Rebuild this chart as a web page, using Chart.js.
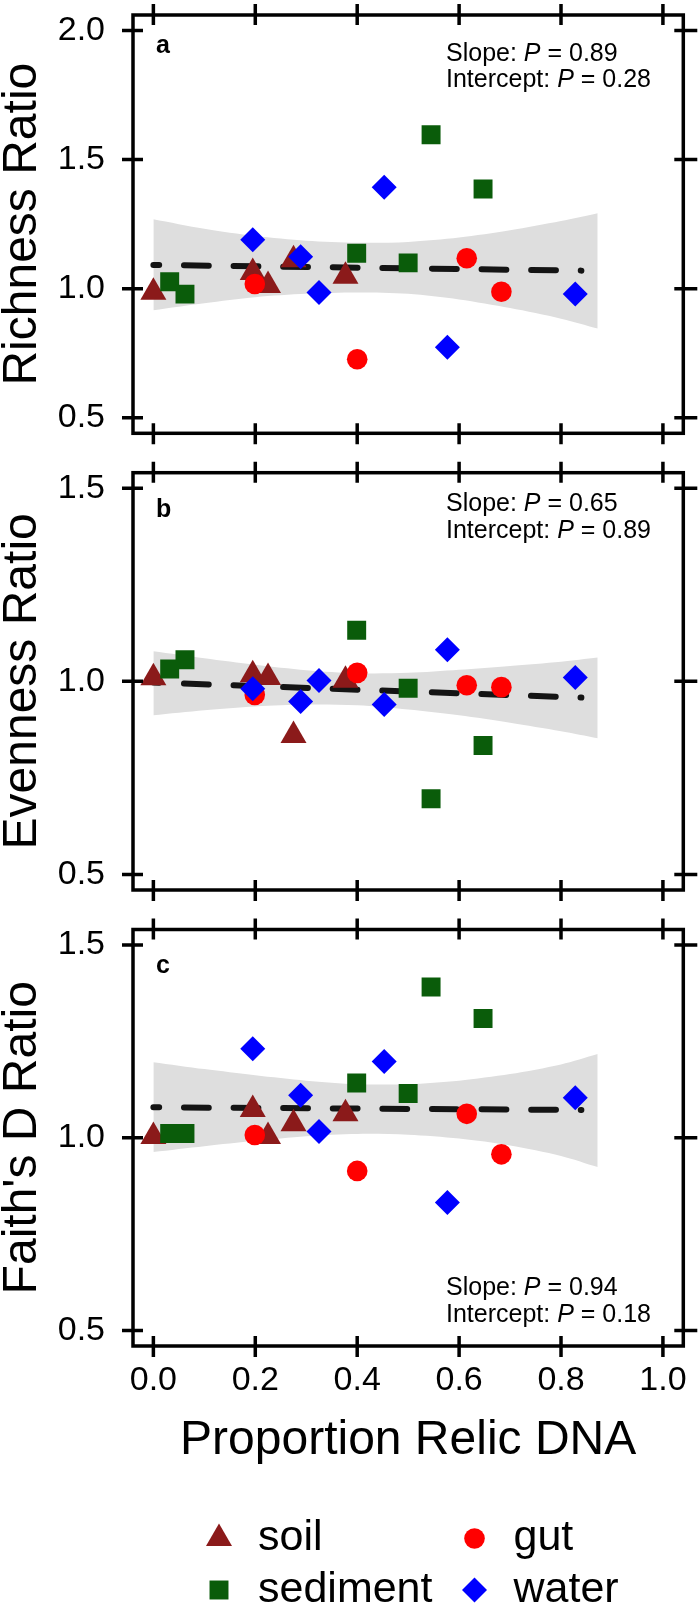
<!DOCTYPE html>
<html>
<head>
<meta charset="utf-8">
<script src="https://cdn.jsdelivr.net/npm/chart.js@4.4.1/dist/chart.umd.min.js"></script>
<style>
  html, body { margin: 0; padding: 0; background: #fff; }
  #wrap { position: relative; width: 700px; height: 1609px; overflow: hidden; }
  canvas { position: absolute; left: 0; }
</style>
</head>
<body>
<div id="wrap">
  <canvas id="chart-a" width="700" height="450" style="top:0px"></canvas>
  <canvas id="chart-b" width="700" height="455" style="top:450px"></canvas>
  <canvas id="chart-c" width="700" height="704" style="top:905px"></canvas>
</div>
<script>
"use strict";
// x positions (proportion relic DNA), shared by the three panels
const xTicks = [0, 0.2, 0.4, 0.6, 0.8, 1.0];
const soilX = [0.000, 0.195, 0.225, 0.275, 0.377];
const sedimentX = [0.032, 0.062, 0.399, 0.500, 0.545, 0.647];
const gutX = [0.199, 0.400, 0.615, 0.683];
const waterX = [0.195, 0.289, 0.325, 0.453, 0.577, 0.828];

// a: richness ratio
const richSoil = [0.986, 1.063, 1.012, 1.112, 1.048];
const richSediment = [1.027, 0.979, 1.137, 1.100, 1.596, 1.386];
const richGut = [1.018, 0.727, 1.118, 0.988];
const richWater = [1.190, 1.124, 0.985, 1.393, 0.773, 0.979];

// b: evenness ratio
const evenSoil = [1.009, 1.017, 1.010, 0.860, 1.003];
const evenSediment = [1.032, 1.056, 1.132, 0.982, 0.696, 0.834];
const evenGut = [0.965, 1.022, 0.990, 0.985];
const evenWater = [0.981, 0.948, 1.002, 0.940, 1.082, 1.010];

// c: faith's D ratio
const faithSoil = [1.003, 1.073, 1.003, 1.036, 1.062];
const faithSediment = [1.011, 1.011, 1.142, 1.115, 1.391, 1.309];
const faithGut = [1.007, 0.914, 1.062, 0.957];
const faithWater = [1.231, 1.110, 1.016, 1.198, 0.832, 1.104];

// fitted lines and confidence bands
const fitX = [0, 0.84];
const richFit = [1.092, 1.070];
const evenFit = [0.997, 0.958];
const faithFit = [1.079, 1.072];
const bandX = [0, 0.1, 0.2, 0.3, 0.4, 0.5, 0.6, 0.7, 0.8, 0.872];
const richUpper = [1.269, 1.232, 1.204, 1.186, 1.178, 1.181, 1.198, 1.226, 1.262, 1.292];
const richLower = [0.917, 0.944, 0.967, 0.980, 0.985, 0.980, 0.958, 0.925, 0.884, 0.846];
const evenUpper = [1.078, 1.060, 1.043, 1.029, 1.021, 1.022, 1.030, 1.040, 1.051, 1.062];
const evenLower = [0.912, 0.925, 0.935, 0.940, 0.938, 0.927, 0.912, 0.893, 0.871, 0.853];
const faithUpper = [1.196, 1.178, 1.162, 1.148, 1.139, 1.139, 1.148, 1.165, 1.190, 1.217];
const faithLower = [0.963, 0.978, 0.992, 1.004, 1.010, 1.008, 0.998, 0.980, 0.953, 0.924];

const yTitles = ["Richness Ratio", "Evenness Ratio", "Faith's D Ratio"];
const panelLetters = ["a", "b", "c"];
const slopeP = ["0.89", "0.65", "0.94"];
const interceptP = ["0.28", "0.89", "0.18"];
const legendLabels = ["soil", "sediment", "gut", "water"];

const FONT = '"Liberation Sans", Arial, Helvetica, sans-serif';
const soilColor = "#8B1A1A";
const sedimentColor = "#0A5C0A";
const gutColor = "#FF0000";
const waterColor = "#0000FF";

Chart.defaults.font.family = FONT;
Chart.defaults.color = "#000";

function pts(xs, ys) {
    return xs.map((x, i) => ({ x: x, y: ys[i] }));
}

function pointSet(label, xs, ys, style, radius, color, order) {
    return {
        label: label,
        data: pts(xs, ys),
        showLine: false,
        order: order,
        pointStyle: style,
        pointRadius: radius,
        pointHoverRadius: radius,
        pointBackgroundColor: color,
        pointBorderColor: color,
        pointBorderWidth: 0,
        pointHoverBorderWidth: 0,
    };
}

function drawStat(ctx, label, value, x, y) {
    const f = "25px " + FONT;
    ctx.font = f;
    ctx.fillText(label, x, y);
    let cx = x + ctx.measureText(label).width;
    ctx.font = "italic " + f;
    ctx.fillText("P", cx, y);
    cx += ctx.measureText("P").width;
    ctx.font = f;
    ctx.fillText(" = " + value, cx, y);
}

// box, ticks crossing the box on all four sides, panel letter and p values
const framePlugin = {
    id: "frame",
    afterDraw(chart, args, opts) {
        const ctx = chart.ctx;
        const { left, right, top, bottom } = chart.chartArea;
        const xs = chart.scales.x;
        const ys = chart.scales.y;
        ctx.save();
        ctx.strokeStyle = "#000";
        ctx.lineWidth = 3.5;
        ctx.strokeRect(left, top, right - left, bottom - top);
        ctx.beginPath();
        xTicks.forEach(v => {
            const px = xs.getPixelForValue(v);
            ctx.moveTo(px, top - 11);
            ctx.lineTo(px, top + 10);
            ctx.moveTo(px, bottom - 10);
            ctx.lineTo(px, bottom + 11);
        });
        opts.yTicks.forEach(v => {
            const py = ys.getPixelForValue(v);
            ctx.moveTo(left - 11, py);
            ctx.lineTo(left + 10, py);
            ctx.moveTo(right - 9, py);
            ctx.lineTo(right + 14, py);
        });
        ctx.stroke();
        ctx.fillStyle = "#000";
        ctx.textBaseline = "alphabetic";
        ctx.textAlign = "left";
        ctx.font = "bold 25px Arimo, 'Liberation Sans', Arial, sans-serif";
        ctx.fillText(opts.letter, 156, opts.letterY);
        drawStat(ctx, "Slope: ", opts.slope, 446, opts.statY[0]);
        drawStat(ctx, "Intercept: ", opts.intercept, 446, opts.statY[1]);
        ctx.restore();
    },
};

// legend under the last panel, two columns
const legendPlugin = {
    id: "sampleLegend",
    afterDraw(chart) {
        const ctx = chart.ctx;
        const items = [
            { text: legendLabels[0], style: "triangle", radius: 15, color: soilColor, x: 219, y: 633.5 },
            { text: legendLabels[1], style: "rect", radius: 13.4, color: sedimentColor, x: 219, y: 685 },
            { text: legendLabels[2], style: "circle", radius: 10.3, color: gutColor, x: 474.5, y: 633.5 },
            { text: legendLabels[3], style: "rectRot", radius: 12.5, color: waterColor, x: 474.5, y: 685 },
        ];
        ctx.save();
        items.forEach(it => {
            ctx.fillStyle = it.color;
            ctx.strokeStyle = it.color;
            Chart.helpers.drawPoint(ctx, { pointStyle: it.style, radius: it.radius, rotation: 0, borderWidth: 0 }, it.x, it.y);
            ctx.fillStyle = "#000";
            ctx.font = "43px " + FONT;
            ctx.textAlign = "left";
            ctx.textBaseline = "middle";
            ctx.fillText(it.text, it.x + 39, it.y);
        });
        ctx.restore();
    },
};

function makePanel(canvasId, p) {
    const plugins = [framePlugin];
    if (p.legend) {
        plugins.push(legendPlugin);
    }
    new Chart(document.getElementById(canvasId), {
        type: "line",
        data: {
            datasets: [
                {
                    label: "upper",
                    data: pts(bandX, p.upper),
                    fill: "+1",
                    backgroundColor: "#dedede",
                    borderColor: "rgba(0,0,0,0)",
                    borderWidth: 0,
                    pointRadius: 0,
                    tension: 0.3,
                    order: 10,
                },
                {
                    label: "lower",
                    data: pts(bandX, p.lower),
                    fill: false,
                    borderColor: "rgba(0,0,0,0)",
                    borderWidth: 0,
                    pointRadius: 0,
                    tension: 0.3,
                    order: 10,
                },
                {
                    label: "fit",
                    data: pts(fitX, p.fit),
                    fill: false,
                    borderColor: "#141414",
                    borderWidth: 6,
                    borderDash: [24.8, 24.8],
                    borderDashOffset: 19,
                    borderCapStyle: "round",
                    pointRadius: 0,
                    order: 8,
                },
                pointSet("soil", soilX, p.soil, "triangle", 15, soilColor, 5),
                pointSet("sediment", sedimentX, p.sediment, "rect", 13.4, sedimentColor, 4),
                pointSet("gut", gutX, p.gut, "circle", 10.3, gutColor, 3),
                pointSet("water", waterX, p.water, "rectRot", 12.5, waterColor, 2),
            ],
        },
        options: {
            responsive: false,
            animation: false,
            devicePixelRatio: 1,
            events: [],
            layout: {
                padding: { left: 0, right: 16.7, top: p.padTop, bottom: p.padBottom },
            },
            plugins: {
                legend: { display: false },
                tooltip: { enabled: false },
                frame: {
                    yTicks: p.yTicks,
                    letter: p.letter,
                    letterY: p.letterY,
                    slope: p.slope,
                    intercept: p.intercept,
                    statY: p.statY,
                },
            },
            scales: {
                x: {
                    type: "linear",
                    position: "bottom",
                    min: -0.04,
                    max: 1.04,
                    afterBuildTicks: s => { s.ticks = xTicks.map(v => ({ value: v })); },
                    afterFit: s => {
                        s.height = p.xHeight;
                        s.paddingLeft = 0;
                        s.paddingRight = 0;
                        s.paddingTop = 0;
                        s.paddingBottom = 0;
                    },
                    grid: { display: false, drawTicks: false },
                    border: { display: false },
                    ticks: {
                        display: p.showX,
                        autoSkip: false,
                        maxRotation: 0,
                        padding: 14.6,
                        font: { size: 34 },
                        callback: v => Number(v).toFixed(1),
                    },
                    title: {
                        display: p.showX,
                        text: "Proportion Relic DNA",
                        font: { size: 48 },
                        padding: 0,
                    },
                },
                y: {
                    type: "linear",
                    position: "left",
                    min: p.yMin,
                    max: p.yMax,
                    afterBuildTicks: s => { s.ticks = p.yTicks.map(v => ({ value: v })); },
                    afterFit: s => {
                        s.width = 133;
                        s.paddingLeft = 0;
                        s.paddingRight = 0;
                        s.paddingTop = 0;
                        s.paddingBottom = 0;
                    },
                    grid: { display: false, drawTicks: false },
                    border: { display: false },
                    ticks: {
                        autoSkip: false,
                        padding: 28,
                        font: { size: 34 },
                        callback: v => Number(v).toFixed(1),
                    },
                    title: {
                        display: true,
                        text: p.yTitle,
                        font: { size: 48 },
                        padding: { top: -6, bottom: 0 },
                    },
                },
            },
        },
        plugins: plugins,
    });
}

function createCharts() {
    makePanel("chart-a", {
        yMin: 0.44, yMax: 2.06, yTicks: [0.5, 1.0, 1.5, 2.0], yTitle: yTitles[0],
        soil: richSoil, sediment: richSediment, gut: richGut, water: richWater,
        fit: richFit, upper: richUpper, lower: richLower,
        letter: panelLetters[0], letterY: 53, slope: slopeP[0], intercept: interceptP[0], statY: [60.7, 86.7],
        padTop: 15, padBottom: 16.7, xHeight: 0, showX: false, legend: false,
    });
    makePanel("chart-b", {
        yMin: 0.46, yMax: 1.54, yTicks: [0.5, 1.0, 1.5], yTitle: yTitles[1],
        soil: evenSoil, sediment: evenSediment, gut: evenGut, water: evenWater,
        fit: evenFit, upper: evenUpper, lower: evenLower,
        letter: panelLetters[1], letterY: 67.3, slope: slopeP[1], intercept: interceptP[1], statY: [60.7, 88],
        padTop: 22.7, padBottom: 14.5, xHeight: 0, showX: false, legend: false,
    });
    makePanel("chart-c", {
        yMin: 0.46, yMax: 1.54, yTicks: [0.5, 1.0, 1.5], yTitle: yTitles[2],
        soil: faithSoil, sediment: faithSediment, gut: faithGut, water: faithWater,
        fit: faithFit, upper: faithUpper, lower: faithLower,
        letter: panelLetters[2], letterY: 68, slope: slopeP[2], intercept: interceptP[2], statY: [390, 417],
        padTop: 24.5, padBottom: 139, xHeight: 124, showX: true, legend: true,
    });
}

createCharts();
</script>
</body>
</html>
